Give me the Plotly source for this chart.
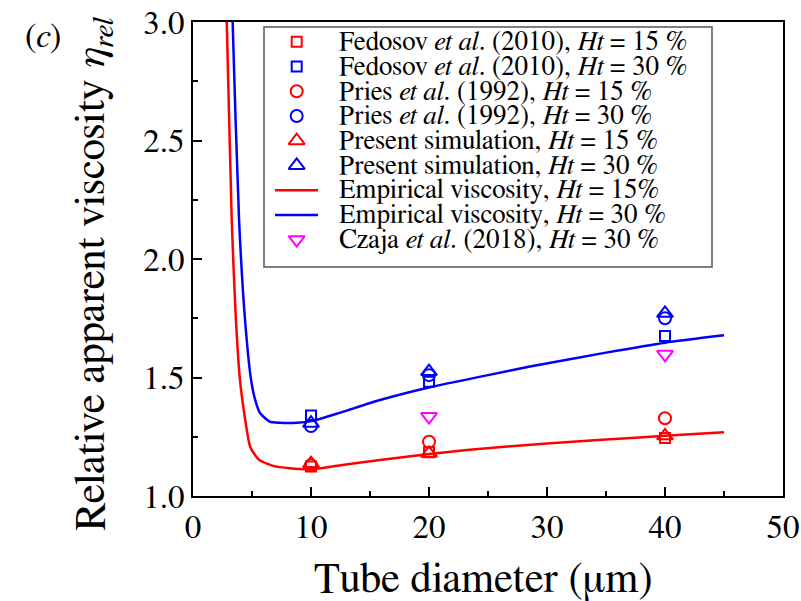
import plotly.graph_objects as go

# ---------------- data ----------------
diam = [10, 20, 40]
fedosov_15 = [1.125, 1.185, 1.245]
fedosov_30 = [1.34, 1.482, 1.675]
pries_15 = [1.13, 1.229, 1.328]
pries_30 = [1.295, 1.51, 1.75]
present_15 = [1.137, 1.18, 1.254]
present_30 = [1.307, 1.525, 1.771]
czaja_d = [20, 40]
czaja_30 = [1.335, 1.598]

emp_d_15 = [2.6, 2.86, 3.28, 3.6, 3.98, 4.4, 4.83, 5.3, 5.68, 6.8, 8.2, 10.0,
            12.5, 15.85, 20, 23.2, 30, 35, 40, 45]
emp_15 = [3.4, 3.0, 2.17, 1.78, 1.49, 1.33, 1.21, 1.17, 1.15, 1.127, 1.117, 1.113,
          1.13, 1.152, 1.177, 1.194, 1.222, 1.238, 1.254, 1.269]
emp_d_30 = [3.1, 3.36, 3.9, 4.4, 4.92, 5.3, 5.68, 6.5, 7.37, 8.8, 10.06,
            12.5, 15.85, 20.08, 25, 28.56, 35, 40, 45]
emp_30 = [3.6, 3.0, 2.17, 1.75, 1.49, 1.40, 1.35, 1.314, 1.309, 1.309, 1.316,
          1.352, 1.405, 1.459, 1.51, 1.546, 1.605, 1.647, 1.678]

legend_labels = [
    "Fedosov <i>et al</i>. (2010), <i>Ht</i> = 15 %",
    "Fedosov <i>et al</i>. (2010), <i>Ht</i> = 30 %",
    "Pries <i>et al</i>. (1992), <i>Ht</i> = 15 %",
    "Pries <i>et al</i>. (1992), <i>Ht</i> = 30 %",
    "Present simulation, <i>Ht</i> = 15 %",
    "Present simulation, <i>Ht</i> = 30 %",
    "Empirical viscosity, <i>Ht</i> = 15%",
    "Empirical viscosity, <i>Ht</i> = 30 %",
    "Czaja <i>et al</i>. (2018), <i>Ht</i> = 30 %",
]

RED, BLUE, MAG = "#ff0000", "#0000ff", "#ff00ff"
FONT = "FreeSerif, serif"

# layout geometry (pixels)
W, H = 801, 601
L, R, T, B = 193, 18, 22, 105
PW, PH = W - L - R, H - T - B


def px(x):
    return (x - L) / PW


def py(y):
    return (H - B - y) / PH


fig = go.Figure()

sq = dict(symbol="square-open", size=10, line=dict(width=2))
ci = dict(symbol="circle-open", size=12, line=dict(width=2))
tu = dict(symbol="triangle-up-open", size=14, line=dict(width=2))
td = dict(symbol="triangle-down-open", size=14, line=dict(width=2))

series = [
    (emp_d_15, emp_15, "lines", RED, None),
    (emp_d_30, emp_30, "lines", BLUE, None),
    (diam, fedosov_15, "markers", RED, sq),
    (diam, fedosov_30, "markers", BLUE, sq),
    (diam, pries_15, "markers", RED, ci),
    (diam, pries_30, "markers", BLUE, ci),
    (diam, present_15, "markers", RED, tu),
    (diam, present_30, "markers", BLUE, tu),
    (czaja_d, czaja_30, "markers", MAG, td),
]
for xs, ys, mode, col, mk in series:
    if mode == "lines":
        fig.add_trace(go.Scatter(x=xs, y=ys, mode="lines",
                                 line=dict(color=col, width=2.5, shape="spline", smoothing=0.6),
                                 showlegend=False, hoverinfo="skip"))
    else:
        m = dict(mk)
        m["color"] = col
        m["line"] = dict(mk["line"], color=col)
        fig.add_trace(go.Scatter(x=xs, y=ys, mode="markers", marker=m,
                                 showlegend=False, cliponaxis=False))

# ---------------- manual legend ----------------
box = dict(x0=px(264), x1=px(712), y0=py(267), y1=py(27))
fig.add_shape(type="rect", xref="paper", yref="paper", **box,
              line=dict(color="#555555", width=1.5), fillcolor="white", layer="below")

row_y = [41.7 + 24.75 * i for i in range(9)]
leg_styles = [(RED, sq), (BLUE, sq), (RED, ci), (BLUE, ci), (RED, tu), (BLUE, tu),
              (RED, None), (BLUE, None), (MAG, td)]
for i, (col, mk) in enumerate(leg_styles):
    yy = py(row_y[i])
    if mk is None:
        fig.add_trace(go.Scatter(x=[px(275), px(318)], y=[yy, yy], mode="lines",
                                 line=dict(color=col, width=2.5), xaxis="x2", yaxis="y2",
                                 showlegend=False, hoverinfo="skip"))
    else:
        m = dict(mk)
        m["color"] = col
        m["line"] = dict(mk["line"], color=col)
        fig.add_trace(go.Scatter(x=[px(296.7)], y=[yy], mode="markers", marker=m,
                                 xaxis="x2", yaxis="y2", showlegend=False, hoverinfo="skip"))
    fig.add_annotation(text=legend_labels[i], xref="paper", yref="paper",
                       x=px(337), y=yy, xanchor="left", yanchor="middle",
                       showarrow=False, font=dict(family=FONT, size=27, color="black"))

# ---------------- titles ----------------
fig.add_annotation(text="Tube diameter (μm)", xref="paper", yref="paper",
                   x=px(483), y=py(580), xanchor="center", yanchor="middle",
                   showarrow=False, font=dict(family=FONT, size=42.5, color="black"))
fig.add_annotation(text="Relative apparent viscosity <i>η<sub>rel</sub></i>",
                   xref="paper", yref="paper", x=px(94), y=py(274), textangle=-90,
                   xanchor="center", yanchor="middle", showarrow=False,
                   font=dict(family=FONT, size=43, color="black"))
fig.add_annotation(text="(<i>c</i>)", xref="paper", yref="paper",
                   x=px(43), y=py(37), xanchor="center", yanchor="middle",
                   showarrow=False, font=dict(family=FONT, size=34, color="black"))

axis_common = dict(showline=True, linecolor="black", linewidth=2, mirror=True,
                   ticks="inside", ticklen=9, tickwidth=2, tickcolor="black",
                   showgrid=False, zeroline=False, automargin=False,
                   tickfont=dict(family=FONT, size=33, color="black"))

fig.update_layout(
    width=W, height=H,
    margin=dict(l=L, r=R, t=T, b=B, autoexpand=False),
    paper_bgcolor="white", plot_bgcolor="white",
    showlegend=False,
    xaxis=dict(range=[0, 50], dtick=10, tick0=0,
               minor=dict(dtick=5, ticks="inside", ticklen=5, tickwidth=1.5, tickcolor="black"),
               **axis_common),
    yaxis=dict(range=[1, 3], dtick=0.5, tick0=1, tickformat=".1f",
               minor=dict(dtick=0.25, ticks="inside", ticklen=5, tickwidth=1.5, tickcolor="black"),
               **axis_common),
    xaxis2=dict(range=[0, 1], overlaying="x", visible=False, anchor="y2"),
    yaxis2=dict(range=[0, 1], overlaying="y", visible=False, anchor="x2"),
)

fig.write_html("out.html")
